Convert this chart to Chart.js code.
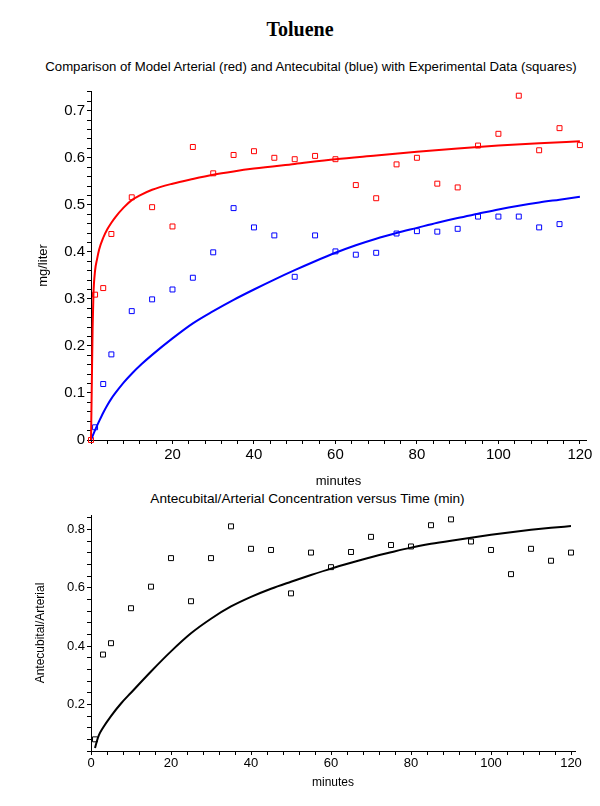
<!DOCTYPE html>
<html>
<head>
<meta charset="utf-8">
<title>Toluene</title>
<script src="https://cdn.jsdelivr.net/npm/chart.js@4.4.0/dist/chart.umd.min.js"></script>
<style>
    body { margin: 0; background: #fff; width: 600px; height: 806px; position: relative; overflow: hidden; }
    .txt { position: absolute; left: 0; text-align: center; white-space: nowrap; color: #000;
           font-family: 'Liberation Sans', Arial, sans-serif; }
    #mainTitle { top: 18px; width: 600px; font: bold 20px 'Liberation Serif', 'Times New Roman', serif; }
    #topTitle { top: 59px; width: 622px; font-size: 13.2px; }
    #bottomTitle { top: 491px; width: 615px; font-size: 13.6px; }
    #topBox { position: absolute; left: 0; top: 80px; }
    #bottomBox { position: absolute; left: 0; top: 505px; }
</style>
</head>
<body>
<div id="mainTitle" class="txt">Toluene</div>
<div id="topTitle" class="txt">Comparison of Model Arterial (red) and Antecubital (blue) with Experimental Data (squares)</div>
<div id="bottomTitle" class="txt">Antecubital/Arterial Concentration versus Time (min)</div>
<div id="topBox"><canvas id="concChart" width="600" height="420"></canvas></div>
<div id="bottomBox"><canvas id="ratioChart" width="600" height="301"></canvas></div>

<script>
// ========================
// DATA
// ========================
// experimental samples, minutes
const arterialTimes = [0, 1, 3, 5, 10, 15, 20, 25, 30, 35, 40, 45, 50, 55, 60, 65, 70, 75, 80, 85, 90, 95, 100, 105, 110, 115, 120];
const arterialObs = [0, 0.309, 0.323, 0.438, 0.516, 0.495, 0.454, 0.623, 0.567, 0.606, 0.614, 0.600, 0.597, 0.604, 0.597, 0.542, 0.514, 0.586, 0.600, 0.545, 0.537, 0.626, 0.651, 0.732, 0.616, 0.663, 0.627];

const antecubitalTimes = [1, 3, 5, 10, 15, 20, 25, 30, 35, 40, 45, 50, 55, 60, 65, 70, 75, 80, 85, 90, 95, 100, 105, 110, 115];
const antecubitalObs = [0.027, 0.119, 0.182, 0.274, 0.299, 0.320, 0.345, 0.399, 0.493, 0.452, 0.435, 0.347, 0.435, 0.401, 0.394, 0.398, 0.439, 0.444, 0.443, 0.449, 0.475, 0.475, 0.475, 0.452, 0.459];

const ratioTimes = [1, 3, 5, 10, 15, 20, 25, 30, 35, 40, 45, 50, 55, 60, 65, 70, 75, 80, 85, 90, 95, 100, 105, 110, 115, 120];
const ratioObs = [0.080, 0.371, 0.410, 0.530, 0.604, 0.702, 0.554, 0.702, 0.811, 0.734, 0.730, 0.581, 0.721, 0.671, 0.723, 0.775, 0.747, 0.742, 0.815, 0.835, 0.759, 0.730, 0.647, 0.734, 0.693, 0.721];

// model curves
const arterialModelTimes = [0, 0.2, 0.4, 0.6, 1, 1.5, 2, 3, 4, 5, 6, 8, 10, 12, 15, 20, 25, 30, 35, 40, 50, 60, 70, 80, 90, 100, 110, 120];
const arterialModel = [0, 0.12, 0.24, 0.31, 0.36, 0.385, 0.405, 0.43, 0.448, 0.462, 0.474, 0.494, 0.51, 0.52, 0.532, 0.545, 0.555, 0.564, 0.571, 0.577, 0.587, 0.597, 0.605, 0.613, 0.620, 0.626, 0.631, 0.635];

const antecubitalModelTimes = [0, 1, 2, 3, 4, 5, 6, 8, 10, 12.5, 15, 20, 25, 30, 35, 40, 45, 50, 55, 60, 65, 70, 75, 80, 85, 90, 95, 100, 105, 110, 115, 120];
const antecubitalModel = [0, 0.021, 0.04, 0.058, 0.074, 0.088, 0.1, 0.122, 0.141, 0.162, 0.181, 0.216, 0.248, 0.274, 0.298, 0.32, 0.341, 0.361, 0.38, 0.398, 0.414, 0.428, 0.44, 0.451, 0.462, 0.472, 0.481, 0.49, 0.498, 0.505, 0.511, 0.517];

const ratioModelTimes = [1, 1.5, 2, 3, 5, 7.5, 10, 15, 20, 25, 30, 35, 40, 45, 50, 55, 60, 65, 70, 75, 80, 85, 90, 95, 100, 105, 110, 115, 120];
const ratioModel = [0.05, 0.075, 0.095, 0.12, 0.16, 0.203, 0.24, 0.313, 0.382, 0.444, 0.494, 0.536, 0.569, 0.597, 0.621, 0.644, 0.666, 0.686, 0.705, 0.722, 0.738, 0.751, 0.762, 0.772, 0.782, 0.791, 0.799, 0.806, 0.812];

// ========================
// HELPERS
// ========================
const FONT = "'Liberation Sans', Arial, sans-serif";

function toPoints(xs, ys) {
    return xs.map(function(x, i) { return { x: x, y: ys[i] }; });
}

function squares(xs, ys, color) {
    return {
        data: toPoints(xs, ys),
        showLine: false,
        pointStyle: 'rect',
        pointRadius: 3.5,
        pointBorderWidth: 1,
        pointBorderColor: color,
        pointBackgroundColor: 'rgba(0,0,0,0)',
        clip: 8
    };
}

function curve(xs, ys, color) {
    return {
        data: toPoints(xs, ys),
        showLine: true,
        borderColor: color,
        borderWidth: 2,
        pointRadius: 0,
        fill: false,
        cubicInterpolationMode: 'monotone',
        clip: 4
    };
}

// label only every "every" units; the rest are minor ticks
function majorLabel(every, skipZero) {
    return function(v) {
        const n = v / every;
        if (Math.abs(n - Math.round(n)) > 1e-6) return '';
        if (Math.abs(v) < 1e-9) return skipZero ? '' : '0';
        return String(parseFloat(v.toFixed(2)));
    };
}

function axisStyle() {
    return {
        border: { display: true, color: '#000', width: 1 },
        grid: { drawOnChartArea: false, drawTicks: true, tickLength: 4, color: '#000' }
    };
}

// ========================
// TOP CHART: concentrations
// ========================
new Chart(document.getElementById('concChart'), {
    type: 'scatter',
    data: {
        datasets: [
            curve(arterialModelTimes, arterialModel, '#ff0000'),
            curve(antecubitalModelTimes, antecubitalModel, '#0000ff'),
            squares(arterialTimes, arterialObs, '#ff0000'),
            squares(antecubitalTimes, antecubitalObs, '#0000ff')
        ]
    },
    options: {
        responsive: false,
        animation: false,
        layout: { padding: { left: 0, right: 14, top: 6, bottom: 0 } },
        plugins: { legend: { display: false }, tooltip: { enabled: false } },
        scales: {
            x: Object.assign(axisStyle(), {
                type: 'linear', min: 0, max: 121.5,
                afterFit: function(s) { s.height = 60; },
                ticks: {
                    stepSize: 4, includeBounds: false, autoSkip: false, maxRotation: 0,
                    padding: 2, color: '#000', font: { family: FONT, size: 15 },
                    callback: majorLabel(20, true)
                },
                title: { display: true, text: 'minutes', color: '#000',
                         font: { family: FONT, size: 13 }, padding: { top: 0, bottom: 11 } }
            }),
            y: Object.assign(axisStyle(), {
                type: 'linear', min: 0, max: 0.742,
                afterFit: function(s) { s.width = 91; },
                ticks: {
                    stepSize: 0.02, includeBounds: false, autoSkip: false,
                    padding: 2, color: '#000', font: { family: FONT, size: 15 },
                    callback: majorLabel(0.1, false)
                },
                title: { display: true, text: 'mg/liter', color: '#000',
                         font: { family: FONT, size: 13 }, padding: { top: 36, bottom: 0 } }
            })
        }
    }
});

// ========================
// BOTTOM CHART: ratio
// ========================
new Chart(document.getElementById('ratioChart'), {
    type: 'scatter',
    data: {
        datasets: [
            curve(ratioModelTimes, ratioModel, '#000000'),
            squares(ratioTimes, ratioObs, '#000000')
        ]
    },
    options: {
        responsive: false,
        animation: false,
        layout: { padding: { left: 0, right: 25, top: 10, bottom: 0 } },
        plugins: { legend: { display: false }, tooltip: { enabled: false } },
        scales: {
            x: Object.assign(axisStyle(), {
                type: 'linear', min: 0, max: 121,
                afterFit: function(s) { s.height = 55; },
                ticks: {
                    stepSize: 4, includeBounds: false, autoSkip: false, maxRotation: 0,
                    padding: 1, color: '#000', font: { family: FONT, size: 13 },
                    callback: majorLabel(20, false)
                },
                title: { display: true, text: 'minutes', color: '#000',
                         font: { family: FONT, size: 12 }, padding: { top: 0, bottom: 16 } }
            }),
            y: Object.assign(axisStyle(), {
                type: 'linear', min: 0.04, max: 0.85,
                afterFit: function(s) { s.width = 91; },
                ticks: {
                    stepSize: 0.04, includeBounds: false, autoSkip: false,
                    padding: 2, color: '#000', font: { family: FONT, size: 13 },
                    callback: majorLabel(0.2, false)
                },
                title: { display: true, text: 'Antecubital/Arterial', color: '#000',
                         font: { family: FONT, size: 12 }, padding: { top: 33, bottom: 0 } }
            })
        }
    }
});
</script>
</body>
</html>
